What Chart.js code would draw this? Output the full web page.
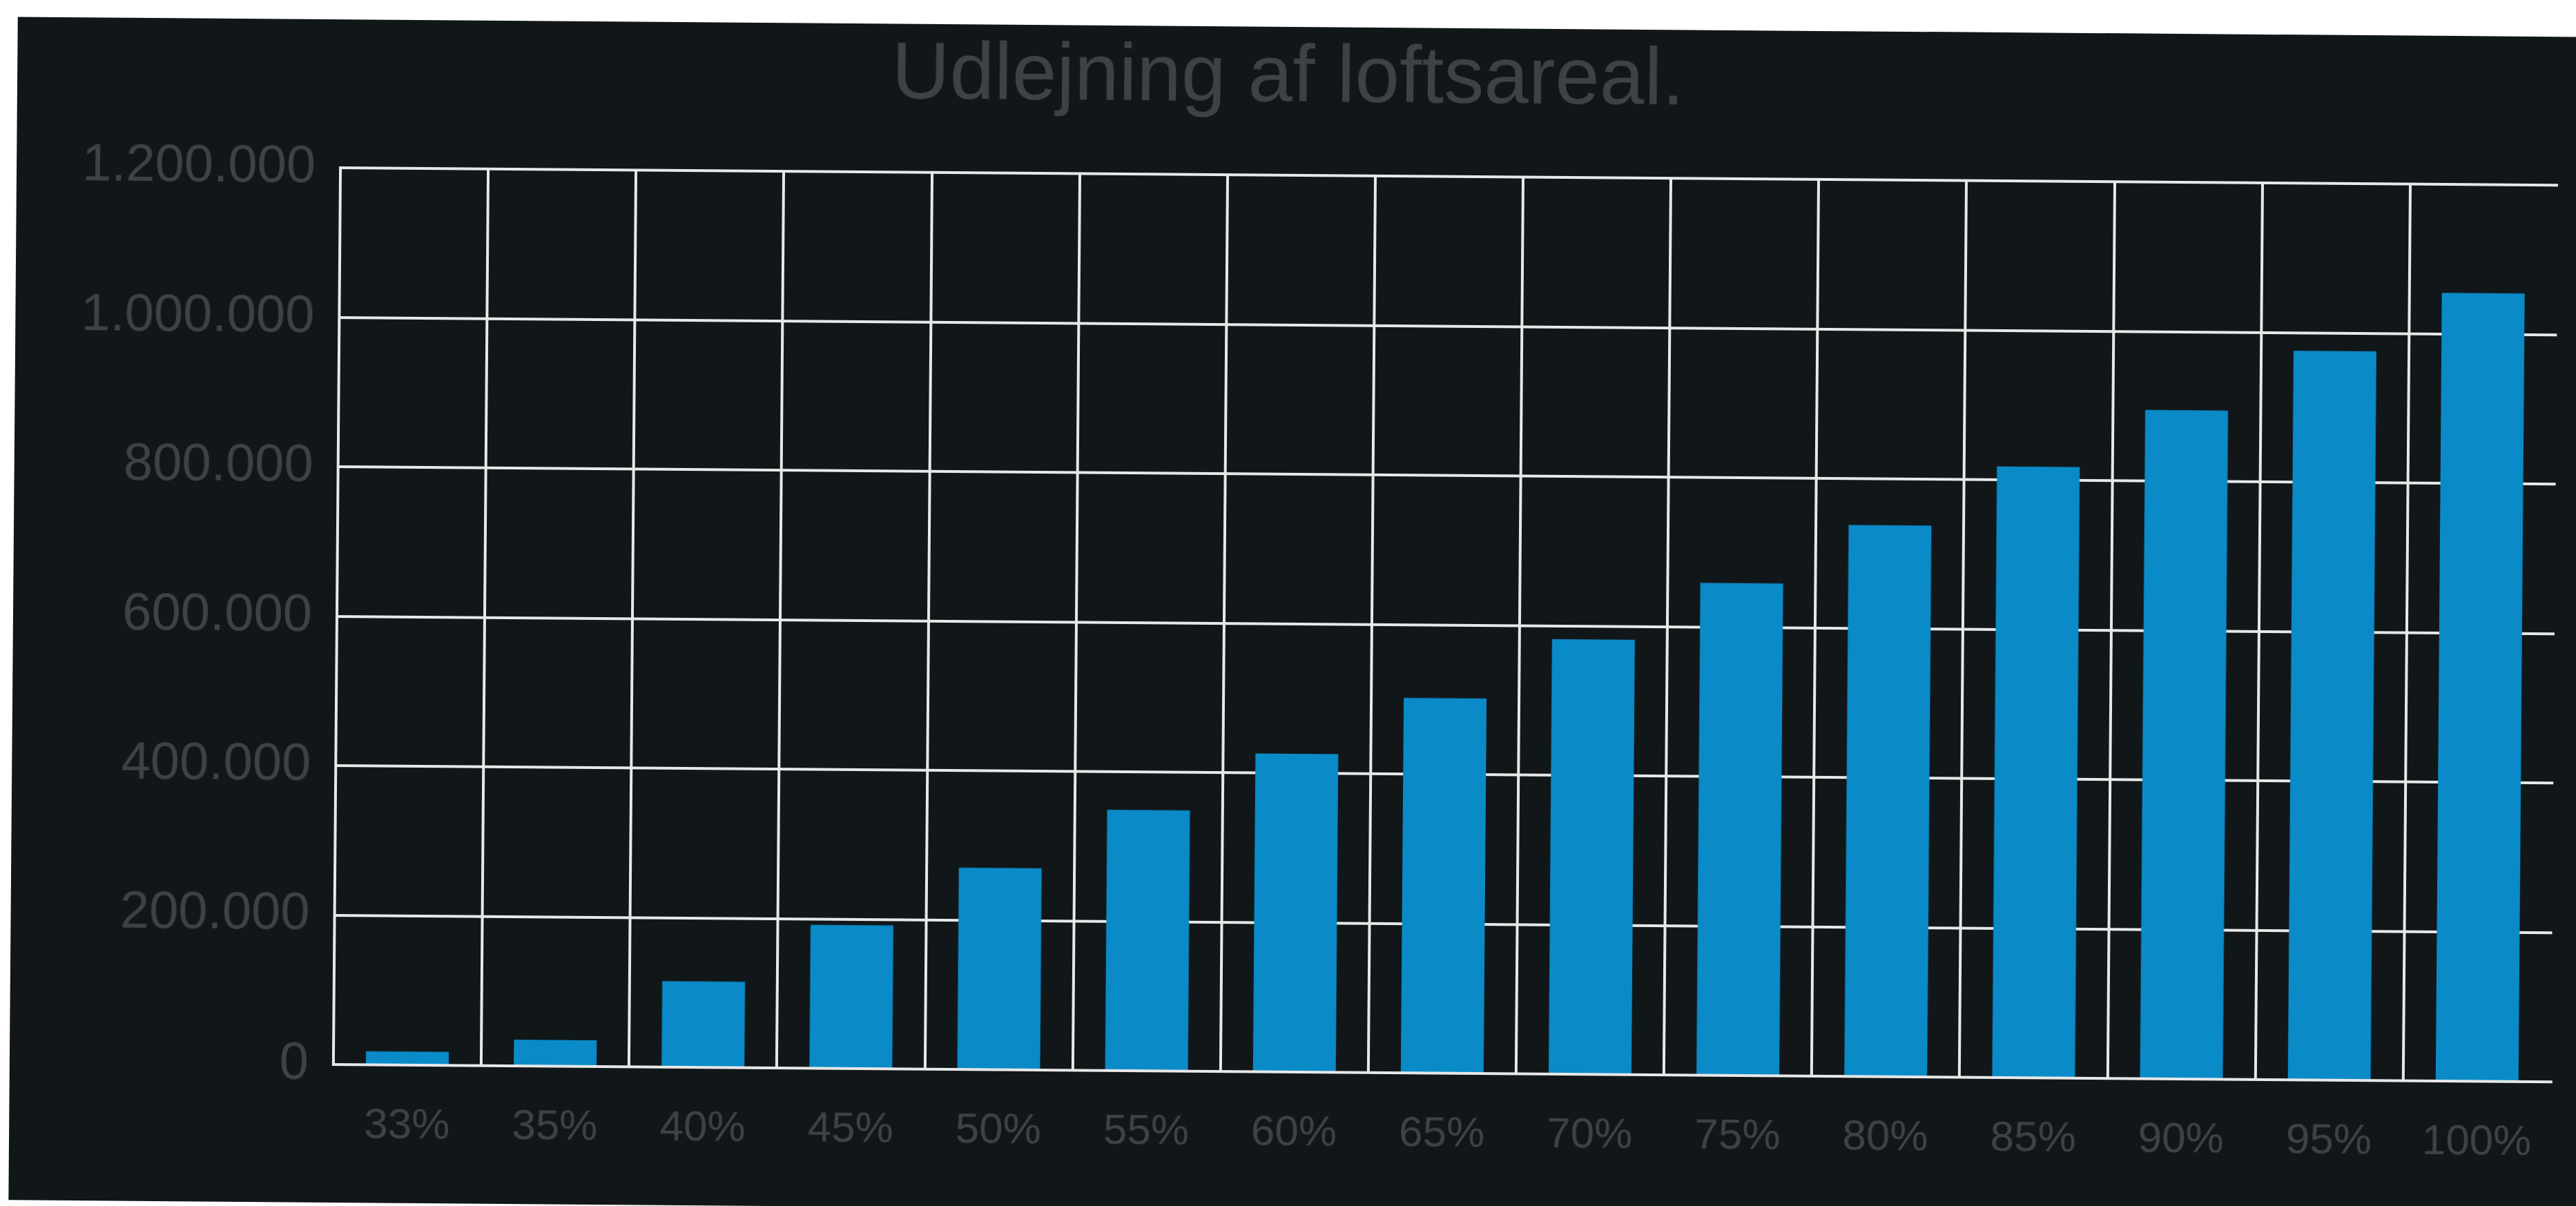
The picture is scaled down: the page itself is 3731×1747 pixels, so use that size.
<!DOCTYPE html>
<html>
<head>
<meta charset="utf-8">
<script src="https://cdn.jsdelivr.net/npm/chart.js@4/dist/chart.umd.min.js"></script>
<style>
    html, body { margin: 0; padding: 0; background: #ffffff; overflow: hidden; }
    #panel {
        position: absolute;
        left: 19px;
        top: 39px;
        width: 3730px;
        height: 1714px;
        background: #111619;
        transform: rotate(0.45deg);
    }
</style>
</head>
<body>
<div id="panel"><canvas id="rentChart"></canvas></div>
<script>
// Share of the loft area rented out, and the resulting income
const categories = ['33%', '35%', '40%', '45%', '50%', '55%', '60%', '65%', '70%', '75%', '80%', '85%', '90%', '95%', '100%'];
const rentValues = [18000, 35000, 115000, 192000, 270000, 349000, 426000, 502000, 582000, 659000, 738000, 818000, 895000, 976000, 1055000];
const yTicks = [0, 200000, 400000, 600000, 800000, 1000000, 1200000];

const textColor = '#3c4246';
const gridColor = '#e8e8e8';

// Danish number format, dots as thousand separators
function formatNumber(value) {
    return String(value).replace(/\B(?=(\d{3})+(?!\d))/g, '.');
}

const canvas = document.getElementById('rentChart');
canvas.width = 3712;
canvas.height = 1707;

const rentChart = new Chart(canvas, {
    type: 'bar',
    data: {
        labels: categories,
        datasets: [{
            data: rentValues,
            backgroundColor: '#0a8bc8',
            barPercentage: 0.56,
            categoryPercentage: 1
        }]
    },
    options: {
        responsive: false,
        animation: false,
        layout: { padding: { left: 0, right: 31, top: 0, bottom: 0 } },
        plugins: {
            legend: { display: false },
            tooltip: { enabled: false },
            title: {
                display: true,
                text: 'Udlejning af loftsareal.',
                color: textColor,
                font: { family: 'Liberation Sans', size: 116, weight: 'normal' },
                padding: { top: 6, bottom: 70 }
            }
        },
        scales: {
            x: {
                grid: {
                    // no line at the right edge of the plot
                    color: (ctx) => ctx.type === 'tick' ? gridColor : 'transparent',
                    lineWidth: 4,
                    drawTicks: false
                },
                border: { color: gridColor, width: 4 },
                ticks: {
                    color: textColor,
                    padding: 52,
                    font: { family: 'Liberation Sans', size: 62 }
                },
                afterFit: (scale) => { scale.height = 193; }
            },
            y: {
                min: 0,
                max: 1200000,
                afterBuildTicks: (scale) => { scale.ticks = yTicks.map(v => ({ value: v })); },
                grid: { color: gridColor, lineWidth: 4, drawTicks: false },
                border: { color: gridColor, width: 4 },
                ticks: {
                    color: textColor,
                    padding: 36,
                    font: { family: 'Liberation Sans', size: 76 },
                    callback: (value) => formatNumber(value)
                },
                afterFit: (scale) => { scale.width = 469; }
            }
        }
    }
});
</script>
</body>
</html>
